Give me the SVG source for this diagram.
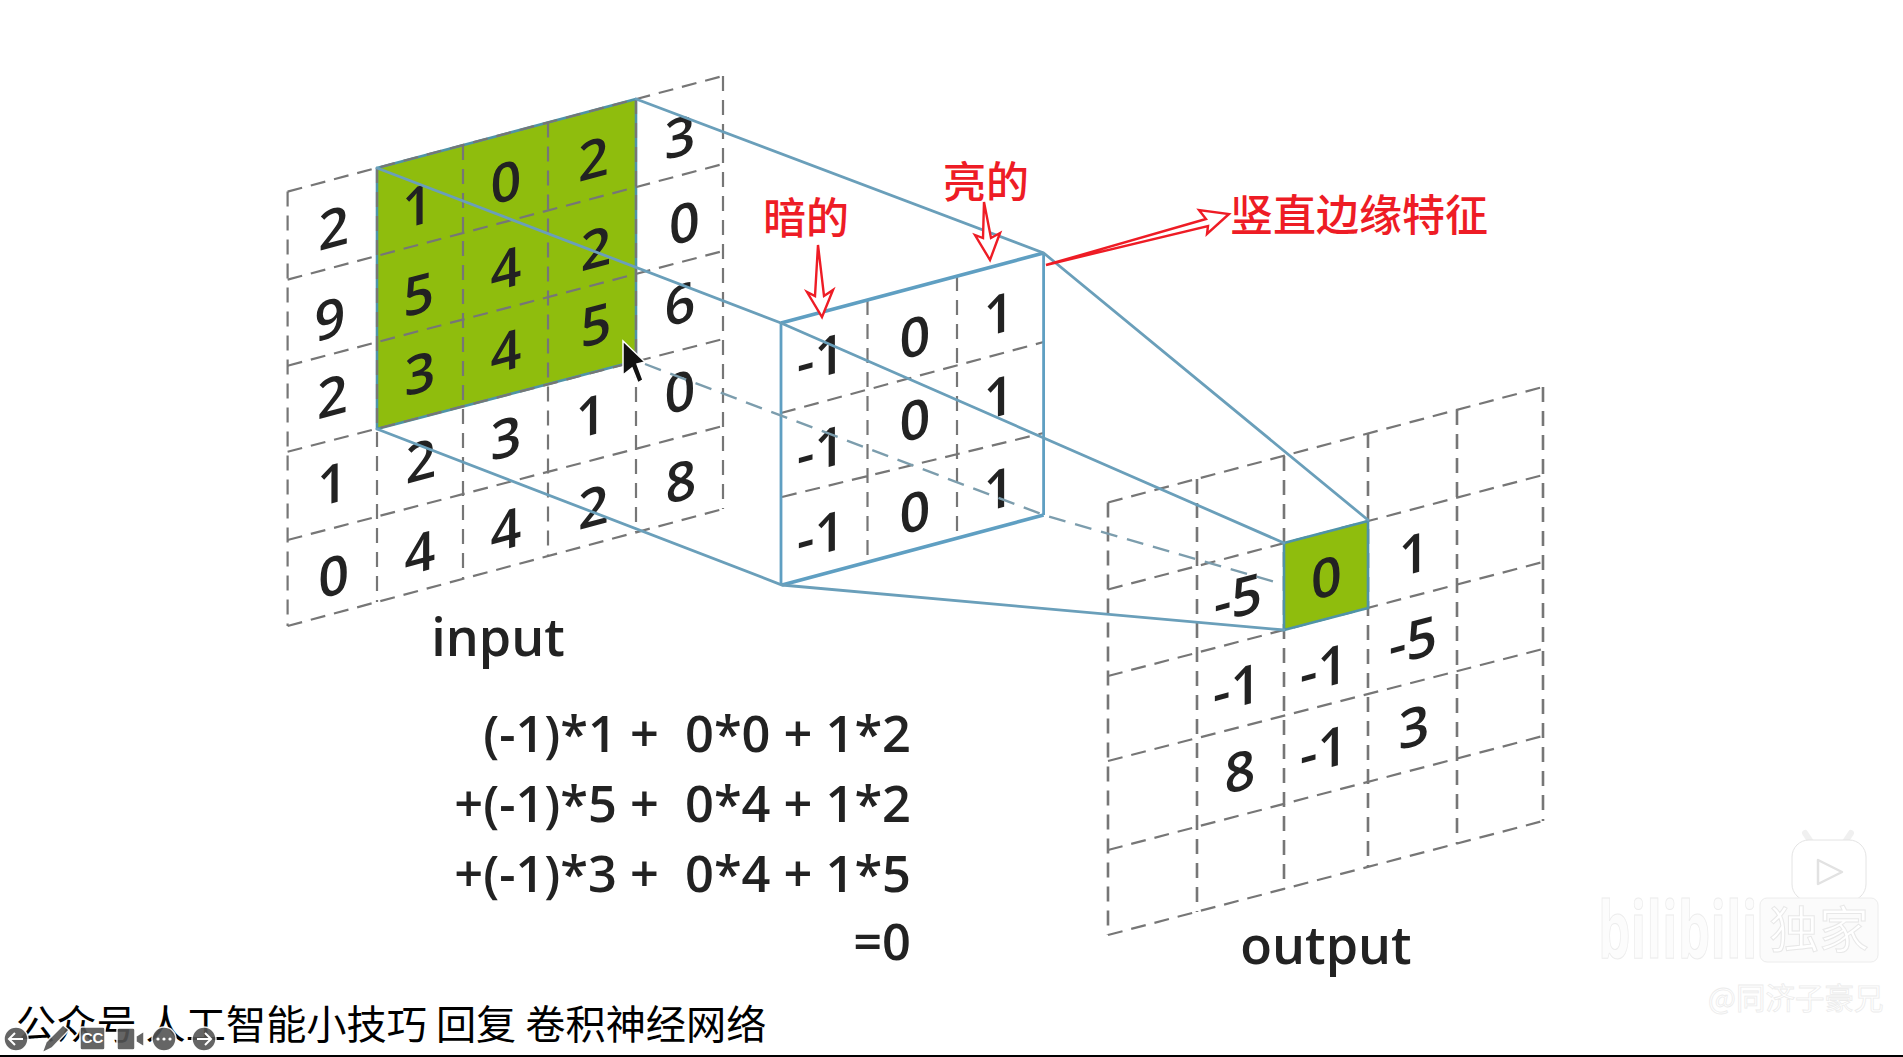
<svg xmlns="http://www.w3.org/2000/svg" width="1903" height="1057" viewBox="0 0 1903 1057">
<defs><filter id="soft" x="-5%" y="-5%" width="110%" height="110%"><feGaussianBlur stdDeviation="0.6"/></filter></defs>
<style>
text{font-family:"Open Sans","Noto Sans",sans-serif;fill:#222}
.n{font-size:54px;text-anchor:middle;font-weight:600}
.lab{font-size:52px;text-anchor:middle;font-weight:600}
.f{font-size:50.5px;text-anchor:end;white-space:pre;font-weight:600}
.soft{filter:url(#soft)}
.dash{fill:none;stroke:#767676;stroke-width:2.2;stroke-dasharray:15 9}
.blue{fill:none;stroke:#6a9fba;stroke-width:2.8;stroke-linecap:round}
.blued{fill:none;stroke:#7c9dad;stroke-width:2.4;stroke-dasharray:17 10}
.green{fill:#8fbd10;stroke:#4f93a8;stroke-width:2.6;stroke-linejoin:round}
.cn{font-family:"Noto Sans CJK SC",sans-serif;font-size:43px;fill:#ee1c25;font-weight:500}
.arr{fill:#fff;stroke:#ee1c25;stroke-width:2.4;stroke-linejoin:miter}
.ui{fill:#555;stroke:#fff;stroke-width:1.5;opacity:.9}
.uil{fill:none;stroke:#fff;stroke-width:2}
.wm{fill:#fcfcfc;stroke:#ececec;stroke-width:1}
</style>
<rect width="1903" height="1057" fill="#fff"/>

<g id="input-grid" class="soft">
<path class="green" d="M377 168L636 99V361L377 429Z"/>
<path class="dash" d="M287.6 191.6L723 76M287.6 279.6L723 164M287.6 365.7L723 251M287.6 451.8L723 339M287.6 540L723 426M287.6 626L723 509"/>
<path class="dash" d="M287.6 191.6V626M377 168V602M463 145V579M548 122.5V556M636 99V532M723 76V509"/>
<g id="input-values">
<text class="n" transform="translate(333.7,227) skewY(-15)" y="20">2</text>
<text class="n" transform="translate(417.5,205) skewY(-15)" y="20">1</text>
<text class="n" transform="translate(506,181) skewY(-15)" y="20">0</text>
<text class="n" transform="translate(593.5,158) skewY(-15)" y="20">2</text>
<text class="n" transform="translate(680,136) skewY(-15)" y="20">3</text>
<text class="n" transform="translate(330,318) skewY(-15)" y="20">9</text>
<text class="n" transform="translate(418.7,293.7) skewY(-15)" y="20">5</text>
<text class="n" transform="translate(506,268) skewY(-15)" y="20">4</text>
<text class="n" transform="translate(596,247.6) skewY(-15)" y="20">2</text>
<text class="n" transform="translate(684.5,222) skewY(-15)" y="20">0</text>
<text class="n" transform="translate(332.5,395.6) skewY(-15)" y="20">2</text>
<text class="n" transform="translate(420,372.6) skewY(-15)" y="20">3</text>
<text class="n" transform="translate(506,350.7) skewY(-15)" y="20">4</text>
<text class="n" transform="translate(596,324) skewY(-15)" y="20">5</text>
<text class="n" transform="translate(680,303.4) skewY(-15)" y="20">6</text>
<text class="n" transform="translate(332.5,483) skewY(-15)" y="20">1</text>
<text class="n" transform="translate(421,460) skewY(-15)" y="20">2</text>
<text class="n" transform="translate(506,437) skewY(-15)" y="20">3</text>
<text class="n" transform="translate(591,415) skewY(-15)" y="20">1</text>
<text class="n" transform="translate(680,391) skewY(-15)" y="20">0</text>
<text class="n" transform="translate(333.7,575) skewY(-15)" y="20">0</text>
<text class="n" transform="translate(420,552) skewY(-15)" y="20">4</text>
<text class="n" transform="translate(506,529) skewY(-15)" y="20">4</text>
<text class="n" transform="translate(593.5,506) skewY(-15)" y="20">2</text>
<text class="n" transform="translate(681,480.6) skewY(-15)" y="20">8</text>
</g>
<text class="lab" x="498" y="656">input</text>
</g>

<g id="output-grid" class="soft">
<path class="dash" d="M1108 502.5L1543 387M1108 589.5L1543 475M1108 676L1543 562M1108 761L1543 649M1108 850L1543 736M1108 935L1543 821"/>
<path class="dash" style="stroke-width:2.6" d="M1108 502.5V935M1197 479V912M1284 456V889M1368 433V867M1457 410V844M1543 387V821"/>
<path class="green" d="M1284 543L1368 521V608L1284 630Z"/>
<g id="output-values">
<text class="n" transform="translate(1238,597) skewY(-15)" y="20">-5</text>
<text class="n" transform="translate(1326.5,576.5) skewY(-15)" y="20">0</text>
<text class="n" transform="translate(1414,553) skewY(-15)" y="20">1</text>
<text class="n" transform="translate(1237,687) skewY(-15)" y="20">-1</text>
<text class="n" transform="translate(1324,667.5) skewY(-15)" y="20">-1</text>
<text class="n" transform="translate(1413,639.6) skewY(-15)" y="20">-5</text>
<text class="n" transform="translate(1240,770.6) skewY(-15)" y="20">8</text>
<text class="n" transform="translate(1324,749) skewY(-15)" y="20">-1</text>
<text class="n" transform="translate(1414,726) skewY(-15)" y="20">3</text>
</g>
<text class="lab" x="1326" y="964">output</text>
</g>

<g id="kernel" class="soft">
<path class="dash" d="M781 413L1043.6 342M782 497L1043.6 433M867.5 300V562M957 276V538"/>
<path fill="none" stroke="#5f9fc2" stroke-width="2.8" d="M781 323V585M1043.6 253V515"/>
<path fill="none" stroke="#5f9fc2" stroke-width="3.6" d="M781 323L1043.6 253M782 585L1043.6 515"/>
<g id="kernel-values">
<text class="n" transform="translate(821,357) skewY(-15)" y="20">-1</text>
<text class="n" transform="translate(915,336) skewY(-15)" y="20">0</text>
<text class="n" transform="translate(999,313) skewY(-15)" y="20">1</text>
<text class="n" transform="translate(821,449) skewY(-15)" y="20">-1</text>
<text class="n" transform="translate(915,419) skewY(-15)" y="20">0</text>
<text class="n" transform="translate(999,396) skewY(-15)" y="20">1</text>
<text class="n" transform="translate(821,534) skewY(-15)" y="20">-1</text>
<text class="n" transform="translate(915,511) skewY(-15)" y="20">0</text>
<text class="n" transform="translate(999,488) skewY(-15)" y="20">1</text>
</g>
</g>

<g id="connectors" class="soft">
<path class="blue" d="M377 168L781 323L1284 543"/>
<path class="blue" d="M636 99L1043.6 253L1368 520"/>
<path class="blue" d="M377 429L782 585L1284 630"/>
<path class="blued" d="M645 364L1043.6 515L1275 582"/>
</g>

<g id="formula" class="soft">
<text class="f" x="911" y="752">(-1)*1 +  0*0 + 1*2</text>
<text class="f" x="911" y="822">+(-1)*5 +  0*4 + 1*2</text>
<text class="f" x="911" y="892">+(-1)*3 +  0*4 + 1*5</text>
<text class="f" x="911" y="960">=0</text>
</g>

<g id="annotation-dark">
<text class="cn" x="763" y="234">暗的</text>
<path class="arr" d="M818 245L815 296L807 292L822 317L833 290L824 296Z"/>
</g>
<g id="annotation-bright">
<text class="cn" x="943" y="198">亮的</text>
<path class="arr" d="M984 202L983 238L975 235L990 260L1000 233L991 238Z"/>
</g>
<g id="annotation-edge">
<text class="cn" x="1230" y="231">竖直边缘特征</text>
<path class="arr" d="M1046 265L1206 219L1199 210L1229 214L1207 234L1208 226Z"/>
</g>

<g id="cursor">
<path d="M623 341V375L632 368L638 383L643 380L637 364L645 362Z" fill="#111" stroke="#fff" stroke-width="1.5"/>
</g>

<text id="caption" x="16" y="1039" style="font-family:'Noto Sans CJK SC',sans-serif;font-size:40.2px;fill:#000">公众号 人工智能小技巧 回复 卷积神经网络</text>

<g id="player-controls">
<circle class="ui" cx="16" cy="1039" r="12"/>
<path class="uil" d="M23 1039H10M15 1033L9 1039L15 1045"/>
<path d="M42 1053L46 1042L63 1025L69 1030L52 1048Z" class="ui"/>
<rect class="ui" x="80" y="1027" width="25" height="23" rx="2"/>
<text x="92.5" y="1043" style="font-size:15px;fill:#fff;text-anchor:middle;font-weight:700;font-family:'Liberation Sans',sans-serif">CC</text>
<rect class="ui" x="117" y="1028" width="18" height="22" rx="2"/>
<path d="M136 1036L144 1031V1047L136 1042Z" class="ui"/>
<circle class="ui" cx="164" cy="1039" r="12"/>
<circle cx="158" cy="1039" r="1.6" fill="#fff"/><circle cx="164" cy="1039" r="1.6" fill="#fff"/><circle cx="170" cy="1039" r="1.6" fill="#fff"/>
<circle class="ui" cx="204" cy="1039" r="12"/>
<path class="uil" d="M197 1039H210M205 1033L211 1039L205 1045"/>
</g>

<g id="watermark">
<path d="M1811 842L1805 833M1845 842L1851 833" style="fill:none;stroke:#f0f0f0;stroke-width:6;stroke-linecap:round"/>
<rect class="wm" x="1792" y="840" width="74" height="61" rx="17" style="fill:#fff;stroke:#e4e4e4"/>
<path d="M1818 860L1842 872L1818 884Z" fill="#fff" stroke="#e2e2e2" stroke-width="2.5" stroke-linejoin="round"/>
<rect class="wm" x="1760" y="898" width="118" height="64" rx="7" style="fill:#fbfbfb"/>
<text x="1819" y="948" style="font-family:'Noto Sans CJK SC',sans-serif;font-size:50px;text-anchor:middle;fill:#fff;stroke:#e8e8e8;stroke-width:1">独家</text>
<text transform="translate(1598,958) scale(.66,1)" style="font-family:'Open Sans',sans-serif;font-size:78px;font-weight:700;fill:#fcfcfc;stroke:#ececec;stroke-width:1">bilibili</text>
<text x="1708" y="1009" style="font-family:'Noto Sans CJK SC',sans-serif;font-size:29.5px;fill:#fff;stroke:#ececec;stroke-width:.8">@同济子豪兄</text>
</g>

<rect id="bottom-rule" y="1055" width="1903" height="2" fill="#000"/>
</svg>
